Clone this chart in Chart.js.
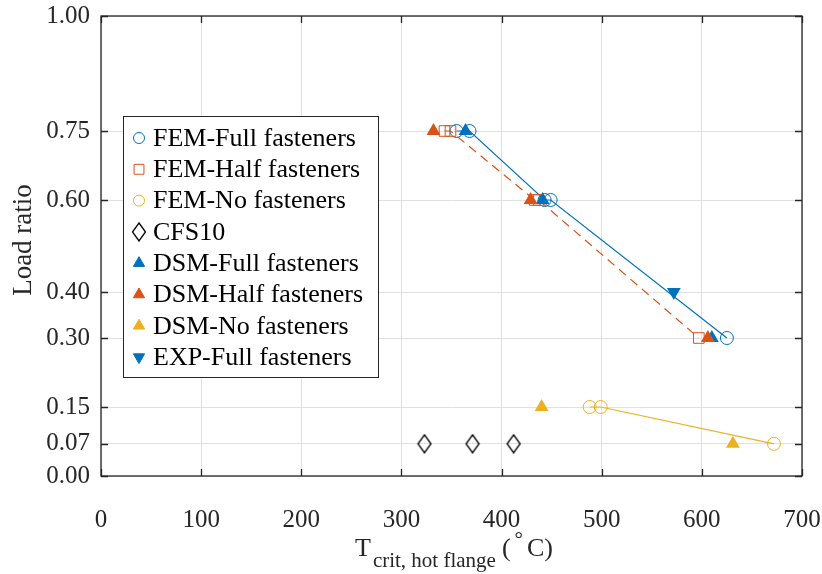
<!DOCTYPE html>
<html>
<head>
<meta charset="utf-8">
<script src="https://cdn.jsdelivr.net/npm/chart.js@4.4.1/dist/chart.umd.min.js"></script>
<style>
  html, body { margin: 0; background: #fff; }
  #wrap { width: 822px; height: 574px; }
</style>
</head>
<body>
<div id="wrap"><canvas id="chartCanvas"></canvas></div>
<script>
// axis ticks
const yTicks = [0, 0.07, 0.15, 0.30, 0.40, 0.60, 0.75, 1.00];
const xTicks = [0, 100, 200, 300, 400, 500, 600, 700];

// series (T crit in degC, load ratio)
const femFullT = [355, 368, 443, 449, 625];
const femFullR = [0.75, 0.75, 0.60, 0.60, 0.30];
const femHalfT = [343, 349, 433, 437, 597];
const femHalfR = [0.75, 0.75, 0.60, 0.60, 0.30];
const femNoT = [488, 499, 672];
const femNoR = [0.15, 0.15, 0.07];
const cfsT = [323, 371, 412];
const cfsR = [0.07, 0.07, 0.07];
const dsmFullT = [364, 441, 610];
const dsmFullR = [0.75, 0.60, 0.30];
const dsmHalfT = [332, 429, 606];
const dsmHalfR = [0.75, 0.60, 0.30];
const dsmNoT = [440, 631];
const dsmNoR = [0.15, 0.07];
const expFullT = [572];
const expFullR = [0.40];

const BLUE = '#0072BD', ORANGE = '#D95319', YELLOW = '#EDB120';
const FONT = '"Liberation Serif", "Times New Roman", serif';

// tall diamond like matlab
function diamond() {
  const c = document.createElement('canvas');
  c.width = 16; c.height = 20;
  const g = c.getContext('2d');
  g.strokeStyle = '#000'; g.lineWidth = 1.3;
  g.beginPath();
  g.moveTo(8, 1); g.lineTo(14.5, 10); g.lineTo(8, 19); g.lineTo(1.5, 10); g.closePath();
  g.stroke();
  return c;
}
const diamondImg = diamond();

const pts = (xs, ys) => xs.map((v, i) => ({ x: v, y: ys[i] }));

const datasets = [
  { label: 'FEM-Full fasteners', data: pts(femFullT, femFullR), showLine: true,
    borderColor: BLUE, borderWidth: 1.2, pointStyle: 'circle', pointRadius: 6.5,
    pointBorderColor: BLUE, pointBackgroundColor: 'rgba(0,0,0,0)', pointBorderWidth: 1 },
  { label: 'FEM-Half fasteners', data: pts(femHalfT, femHalfR), showLine: true,
    borderColor: ORANGE, borderWidth: 1.2, borderDash: [9, 6], pointStyle: 'rect', pointRadius: 7.5,
    pointBorderColor: ORANGE, pointBackgroundColor: 'rgba(0,0,0,0)', pointBorderWidth: 1 },
  { label: 'FEM-No fasteners', data: pts(femNoT, femNoR), showLine: true,
    borderColor: YELLOW, borderWidth: 1.2, pointStyle: 'circle', pointRadius: 6.5,
    pointBorderColor: YELLOW, pointBackgroundColor: 'rgba(0,0,0,0)', pointBorderWidth: 1 },
  { label: 'CFS10', data: pts(cfsT, cfsR), showLine: false,
    pointStyle: diamondImg, pointRadius: 8 },
  { label: 'DSM-Full fasteners', data: pts(dsmFullT, dsmFullR), showLine: false,
    pointStyle: 'triangle', pointRadius: 8, pointBorderWidth: 0,
    pointBackgroundColor: BLUE, pointBorderColor: BLUE },
  { label: 'DSM-Half fasteners', data: pts(dsmHalfT, dsmHalfR), showLine: false,
    pointStyle: 'triangle', pointRadius: 8, pointBorderWidth: 0,
    pointBackgroundColor: ORANGE, pointBorderColor: ORANGE },
  { label: 'DSM-No fasteners', data: pts(dsmNoT, dsmNoR), showLine: false,
    pointStyle: 'triangle', pointRadius: 8, pointBorderWidth: 0,
    pointBackgroundColor: YELLOW, pointBorderColor: YELLOW },
  { label: 'EXP-Full fasteners', data: pts(expFullT, expFullR), showLine: false,
    pointStyle: 'triangle', pointRotation: 180, pointRadius: 8, pointBorderWidth: 0,
    pointBackgroundColor: BLUE, pointBorderColor: BLUE }
];
// later series on top, like matlab
datasets.forEach((d, i) => { d.order = datasets.length - i; });

// frame, inner ticks, legend box and titles
const decorPlugin = {
  id: 'decor',
  afterDraw(chart) {
    const { ctx, chartArea: a, scales: { x, y } } = chart;
    ctx.save();

    // box + ticks
    ctx.strokeStyle = '#262626';
    ctx.lineWidth = 1.3;
    ctx.strokeRect(a.left, a.top, a.right - a.left, a.bottom - a.top);
    ctx.beginPath();
    xTicks.forEach(v => {
      const px = Math.round(x.getPixelForValue(v)) + 0.5;
      ctx.moveTo(px, a.bottom); ctx.lineTo(px, a.bottom - 7);
      ctx.moveTo(px, a.top); ctx.lineTo(px, a.top + 7);
    });
    yTicks.forEach(v => {
      const py = Math.round(y.getPixelForValue(v)) + 0.5;
      ctx.moveTo(a.left, py); ctx.lineTo(a.left + 7, py);
      ctx.moveTo(a.right, py); ctx.lineTo(a.right - 7, py);
    });
    ctx.stroke();

    // legend
    const bx = 123, by = 116, bw = 255, bh = 261;
    ctx.fillStyle = '#fff';
    ctx.fillRect(bx, by, bw, bh);
    ctx.strokeStyle = '#262626';
    ctx.lineWidth = 1;
    ctx.strokeRect(bx + 0.5, by + 0.5, bw, bh);
    ctx.font = '26px ' + FONT;
    ctx.textBaseline = 'middle';
    ctx.textAlign = 'left';
    datasets.forEach((d, i) => {
      const cy = 138 + i * 31.3;
      const r = d.pointStyle === 'triangle' ? 6.5 : (d.pointStyle === 'rect' ? 7 : 5.5);
      ctx.fillStyle = d.pointBackgroundColor || 'rgba(0,0,0,0)';
      ctx.strokeStyle = d.pointBorderColor || '#000';
      ctx.lineWidth = d.pointBorderWidth ?? 1;
      Chart.helpers.drawPoint(ctx, {
        pointStyle: d.pointStyle, rotation: d.pointRotation || 0,
        radius: d.pointStyle === diamondImg ? 8 : r, borderWidth: ctx.lineWidth
      }, 139, cy);
      ctx.fillStyle = '#000';
      ctx.fillText(d.label, 153, cy + 1);
    });

    // y title
    ctx.fillStyle = '#262626';
    ctx.font = '27px ' + FONT;
    ctx.save();
    ctx.translate(31, 240);
    ctx.rotate(-Math.PI / 2);
    ctx.textAlign = 'center';
    ctx.textBaseline = 'alphabetic';
    ctx.fillText('Load ratio', 0, 0);
    ctx.restore();

    // x title with subscript / superscript
    ctx.textAlign = 'left';
    ctx.textBaseline = 'alphabetic';
    let px = 355;
    const base = 556;
    ctx.font = '26px ' + FONT;
    ctx.fillText('T', px, base); px += ctx.measureText('T').width + 2;
    ctx.font = '21px ' + FONT;
    ctx.fillText('crit, hot flange', px, base + 11); px += ctx.measureText('crit, hot flange').width + 6;
    ctx.font = '26px ' + FONT;
    ctx.fillText('(', px, base); px += ctx.measureText('(').width + 4;
    ctx.font = '21px ' + FONT;
    ctx.fillText('°', px, base - 10); px += ctx.measureText('°').width + 4;
    ctx.font = '26px ' + FONT;
    ctx.fillText('C)', px, base);

    ctx.restore();
  }
};

new Chart(document.getElementById('chartCanvas'), {
  type: 'line',
  data: { datasets },
  options: {
    responsive: true,
    maintainAspectRatio: false,
    animation: false,
    layout: { padding: { left: 0, right: 20, top: 16, bottom: 0 } },
    plugins: { legend: { display: false }, tooltip: { enabled: false } },
    scales: {
      x: {
        type: 'linear', min: 0, max: 700,
        afterBuildTicks: s => { s.ticks = xTicks.map(v => ({ value: v })); },
        afterFit: s => { s.height = 98; s.paddingLeft = 0; s.paddingRight = 0; },
        grid: { color: '#e0e0e0', lineWidth: 1, drawTicks: false },
        border: { display: false },
        ticks: { color: '#262626', padding: 29, font: { family: FONT, size: 25 }, maxRotation: 0 }
      },
      y: {
        type: 'linear', min: 0, max: 1,
        afterBuildTicks: s => { s.ticks = yTicks.map(v => ({ value: v })); },
        afterFit: s => { s.width = 101; s.paddingTop = 0; s.paddingBottom = 0; },
        grid: { color: '#e0e0e0', lineWidth: 1, drawTicks: false },
        border: { display: false },
        ticks: { color: '#262626', padding: 11, font: { family: FONT, size: 25 },
          callback: v => v.toFixed(2) }
      }
    }
  },
  plugins: [decorPlugin]
});
</script>
</body>
</html>
